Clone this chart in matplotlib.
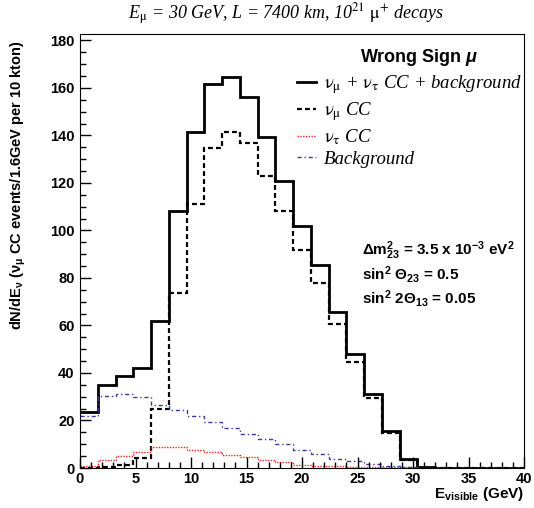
import numpy as np
import matplotlib
matplotlib.use('Agg')
import matplotlib.pyplot as plt

###############################################################################
# wrong sign muon spectrum, E_mu = 30 GeV, L = 7400 km
###############################################################################

# inputs
bin_lo = 0.0
bin_hi = 40.0
n_bins = 25
total = [23.6, 35.0, 38.8, 42.0, 61.7, 108.3, 141.5, 161.5, 164.5, 156.0, 139.5, 120.7, 101.7,
         85.6, 65.5, 47.9, 31.0, 15.6, 3.7, 0.5, 0.0, 0.0, 0.0, 0.0, 0.0]
numu_cc = [0.2, 0.3, 1.3, 4.2, 25.0, 73.6, 111.3, 134.5, 141.6, 136.7, 123.0, 108.0, 91.8,
           78.0, 60.6, 44.7, 29.4, 14.9, 3.3, 0.2, 0.0, 0.0, 0.0, 0.0, 0.0]
nutau_cc = [0.8, 3.4, 5.0, 6.9, 9.0, 9.0, 7.6, 6.7, 5.3, 4.6, 3.2, 2.7, 1.3,
            0.8, 0.8, 0.6, 0.5, 0.4, 0.3, 0.2, 0.2, 0.1, 0.1, 0.1, 0.1]
background = [22.0, 30.5, 31.2, 30.0, 26.6, 24.3, 21.9, 19.4, 17.0, 14.5, 12.4, 10.0, 7.6,
              5.8, 3.8, 2.9, 1.8, 0.8, 0.4, 0.2, 0.2, 0.2, 0.2, 0.2, 0.2]

labels = [r'$\mathrm{\nu}_{\mathrm{\mu}}$ + $\mathrm{\nu}_{\mathrm{\tau}}$ CC + background',
          r'$\mathrm{\nu}_{\mathrm{\mu}}$ CC',
          r'$\mathrm{\nu}_{\mathrm{\tau}}$ CC',
          'Background']

# math fonts for the bold sans texts
plt.rcParams['mathtext.fontset'] = 'custom'
plt.rcParams['mathtext.rm'] = 'Liberation Sans:bold'
plt.rcParams['mathtext.it'] = 'Liberation Sans:bold:italic'
plt.rcParams['mathtext.bf'] = 'Liberation Sans:bold'
plt.rcParams['font.family'] = ['Liberation Sans', 'DejaVu Sans']

edges = np.linspace(bin_lo, bin_hi, n_bins + 1)

fig = plt.figure(figsize=(5.34, 5.08), dpi=100)
ax = fig.add_axes([80/534, 1-468/508, 444/534, 434/508])

bg_color = '#3c3ca0'
ax.stairs(total, edges, color='black', linewidth=2.0, baseline=None)
ax.stairs(numu_cc, edges, color='black', linewidth=1.6, linestyle=(0, (2.2, 1.4)), baseline=None)
ax.stairs(nutau_cc, edges, color='#ff2020', linewidth=1.0, linestyle=(0, (1, 1)), baseline=None)
ax.stairs(background, edges, color=bg_color, linewidth=1.0, linestyle=(0, (3, 2, 1, 2)), baseline=None)

ax.set_xlim(bin_lo, bin_hi)
ax.set_ylim(0, 182.7)
ax.set_xticks(np.arange(0, 41, 5))
ax.set_xticks(np.arange(0, 41, 1), minor=True)
ax.set_yticks(np.arange(0, 181, 20))
ax.set_yticks(np.arange(0, 181, 5), minor=True)
ax.tick_params(which='both', direction='in', top=False, right=False, width=1.0)
ax.tick_params(which='major', length=8, labelsize=10.5)
ax.tick_params(which='minor', length=4)
for lab in ax.get_xticklabels() + ax.get_yticklabels():
    lab.set_fontweight('bold')
ax.tick_params(axis='x', pad=3)
ax.tick_params(axis='y', pad=4)

# legend
handles = [plt.Line2D([], [], color='black', linewidth=2.0),
           plt.Line2D([], [], color='black', linewidth=1.6, linestyle=(0, (2.2, 1.4))),
           plt.Line2D([], [], color='#ff2020', linewidth=1.0, linestyle=(0, (1, 1))),
           plt.Line2D([], [], color=bg_color, linewidth=1.0, linestyle=(0, (3, 2, 1, 2)))]
leg = ax.legend(handles, labels, loc='upper left', bbox_to_anchor=(0.488, 0.91),
                frameon=False, handlelength=1.05, handletextpad=0.4, labelspacing=0.22,
                borderpad=0, borderaxespad=0,
                prop={'family': 'Liberation Serif', 'style': 'italic', 'size': 13.5})
for t in leg.get_texts():
    t.set_math_fontfamily('stix')

ax.text(0.764, 0.945, r'Wrong Sign $\mathit{\mu}$', transform=ax.transAxes, ha='center', va='center',
        fontsize=13, fontweight='bold')

ax.text(0.635, 0.50, r'$\Delta$m$^2_{23}$ = 3.5 x 10$^{-3}$ eV$^2$', transform=ax.transAxes,
        ha='left', va='center', fontsize=11, fontweight='bold')
ax.text(0.635, 0.446, r'sin$^2$ $\Theta_{23}$ = 0.5', transform=ax.transAxes,
        ha='left', va='center', fontsize=11, fontweight='bold')
ax.text(0.635, 0.39, r'sin$^2$ 2$\Theta_{13}$ = 0.05', transform=ax.transAxes,
        ha='left', va='center', fontsize=11, fontweight='bold')

fig.text(286/534, 1-14/508, r'E$_{\mathrm{\mu}}$ = 30 GeV, L = 7400 km, 10$^{21}$ $\mathrm{\mu}^{+}$ decays',
         ha='center', va='center', fontsize=13, family='Liberation Serif', style='italic',
         math_fontfamily='stix')

fig.text(18/534, 1-40/508, r'dN/dE$_{\mathrm{\nu}}$ ($\mathrm{\nu}_{\mathrm{\mu}}$ CC events/1.6GeV per 10 kton)',
         rotation=90, ha='center', va='top', fontsize=10.5, fontweight='bold')
fig.text(524/534, 1-494/508, r'E$_{\mathrm{visible}}$ (GeV)', ha='right', va='center',
         fontsize=11, fontweight='bold')

fig.savefig('out.png', dpi=100)
